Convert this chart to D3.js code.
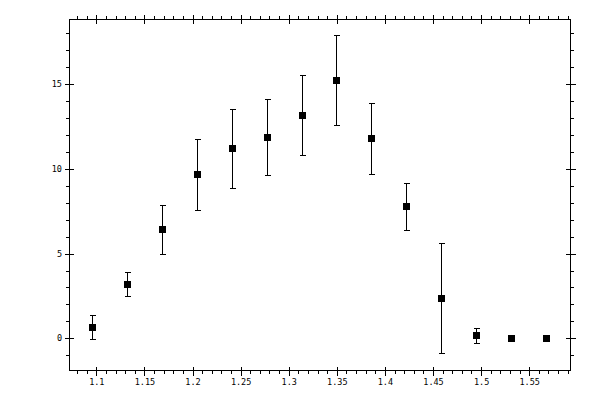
<!DOCTYPE html>
<html lang="en">
<head>
    <meta charset="UTF-8">
    <title>Error bar plot</title>
    <style>
        body { margin: 0; background: #fff; }
        svg { display: block; }
        .frame { fill: none; stroke: #000; stroke-width: 1px; shape-rendering: crispEdges; }
        .tick-line { stroke: #000; stroke-width: 1px; shape-rendering: crispEdges; }
        .err { stroke: #000; stroke-width: 1px; shape-rendering: crispEdges; }
        .marker { fill: #000; shape-rendering: crispEdges; }
        text {
          font-family: "DejaVu Sans Mono", monospace;
          font-size: 8.5px;
          fill: #000;
        }
    </style>
</head>
<body>
    <svg width="600" height="400"></svg>

    <script src="https://d3js.org/d3.v7.min.js"></script>
    <script>
        // data
        var xValues = [1.0955, 1.1318, 1.1683, 1.2050, 1.2414, 1.2778, 1.3141,
                       1.3495, 1.3859, 1.4223, 1.4584, 1.4948, 1.5313, 1.5677];
        var yValues = [0.65, 3.19, 6.43, 9.68, 11.21, 11.86, 13.16,
                       15.22, 11.80, 7.79, 2.36, 0.18, 0, 0];
        var yErrors = [0.71, 0.72, 1.44, 2.10, 2.33, 2.25, 2.36,
                       2.65, 2.10, 1.38, 3.24, 0.44, 0, 0];

        var xMajorTicks = [1.1, 1.15, 1.2, 1.25, 1.3, 1.35, 1.4, 1.45, 1.5, 1.55];
        var xTickLabels = ["1.1", "1.15", "1.2", "1.25", "1.3", "1.35", "1.4", "1.45", "1.5", "1.55"];
        var yMajorTicks = [0, 5, 10, 15];
        var yTickLabels = ["0", "5", "10", "15"];

        var xMinorTicks = d3.range(108, 160).map(function(d) { return d / 100; });
        var yMinorTicks = d3.range(-1, 19);

        var svg = d3.select("svg");
        var plotL = 69, plotR = 570, plotT = 19, plotB = 370;

        var x = d3.scaleLinear().domain([1.0716, 1.5924]).range([plotL, plotR]);
        var y = d3.scaleLinear().domain([-1.87, 18.84]).range([plotB, plotT]);

        function px(v) { return Math.round(v) + 0.5; }

        svg.append("rect")
            .attr("class", "frame")
            .attr("x", plotL + 0.5).attr("y", plotT + 0.5)
            .attr("width", plotR - plotL).attr("height", plotB - plotT);

        var ticks = svg.append("g");

        // bottom and top axes
        xMinorTicks.forEach(function(v) {
          var xx = px(x(v));
          ticks.append("line").attr("class", "tick-line")
              .attr("x1", xx).attr("x2", xx).attr("y1", plotB + 0.5).attr("y2", plotB + 4);
          ticks.append("line").attr("class", "tick-line")
              .attr("x1", xx).attr("x2", xx).attr("y1", plotT + 0.5).attr("y2", plotT - 3);
        });
        xMajorTicks.forEach(function(v, i) {
          var xx = px(x(v));
          ticks.append("line").attr("class", "tick-line")
              .attr("x1", xx).attr("x2", xx).attr("y1", plotB - 3).attr("y2", plotB + 6);
          ticks.append("line").attr("class", "tick-line")
              .attr("x1", xx).attr("x2", xx).attr("y1", plotT - 4).attr("y2", plotT + 5);
          ticks.append("text")
              .attr("x", x(v) + 0.5).attr("y", plotB + 15)
              .attr("text-anchor", "middle")
              .text(xTickLabels[i]);
        });

        // left and right axes
        yMinorTicks.forEach(function(v) {
          var yy = px(y(v));
          ticks.append("line").attr("class", "tick-line")
              .attr("y1", yy).attr("y2", yy).attr("x1", plotL + 0.5).attr("x2", plotL - 3);
          ticks.append("line").attr("class", "tick-line")
              .attr("y1", yy).attr("y2", yy).attr("x1", plotR + 0.5).attr("x2", plotR + 4);
        });
        yMajorTicks.forEach(function(v, i) {
          var yy = px(y(v));
          ticks.append("line").attr("class", "tick-line")
              .attr("y1", yy).attr("y2", yy).attr("x1", plotL - 4).attr("x2", plotL + 5);
          ticks.append("line").attr("class", "tick-line")
              .attr("y1", yy).attr("y2", yy).attr("x1", plotR - 4).attr("x2", plotR + 6);
          ticks.append("text")
              .attr("x", plotL - 7).attr("y", y(v) + 3)
              .attr("text-anchor", "end")
              .text(yTickLabels[i]);
        });

        // error bars
        var points = xValues.map(function(v, i) {
          return {x: v, y: yValues[i], e: yErrors[i]};
        });
        var bars = svg.append("g")
            .selectAll("g")
            .data(points.filter(function(d) { return d.e > 0; }))
            .enter().append("g");

        bars.append("line").attr("class", "err")
            .attr("x1", function(d) { return px(x(d.x)); })
            .attr("x2", function(d) { return px(x(d.x)); })
            .attr("y1", function(d) { return px(y(d.y + d.e)); })
            .attr("y2", function(d) { return px(y(d.y - d.e)); });
        bars.append("line").attr("class", "err")
            .attr("x1", function(d) { return px(x(d.x)) - 3; })
            .attr("x2", function(d) { return px(x(d.x)) + 3; })
            .attr("y1", function(d) { return px(y(d.y + d.e)); })
            .attr("y2", function(d) { return px(y(d.y + d.e)); });
        bars.append("line").attr("class", "err")
            .attr("x1", function(d) { return px(x(d.x)) - 3; })
            .attr("x2", function(d) { return px(x(d.x)) + 3; })
            .attr("y1", function(d) { return px(y(d.y - d.e)); })
            .attr("y2", function(d) { return px(y(d.y - d.e)); });

        // square markers
        svg.append("g")
            .selectAll("rect")
            .data(points)
            .enter().append("rect")
            .attr("class", "marker")
            .attr("x", function(d) { return Math.round(x(d.x)) - 3; })
            .attr("y", function(d) { return Math.round(y(d.y)) - 3; })
            .attr("width", 7)
            .attr("height", 7);
    </script>
</body>
</html>
